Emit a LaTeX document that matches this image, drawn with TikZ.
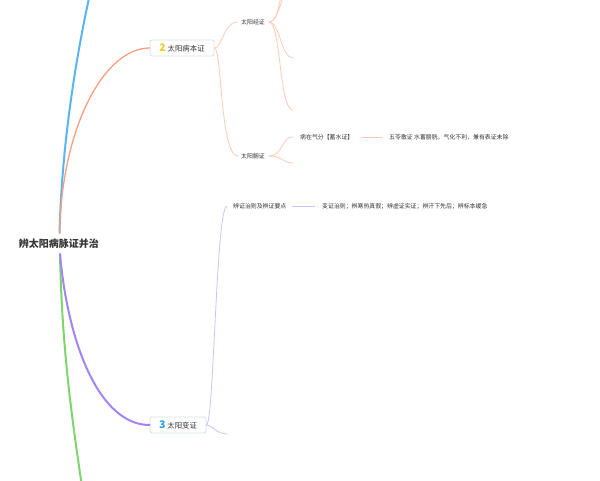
\documentclass[tikz,border=0pt]{standalone}
\usepackage{fontspec}
\setmainfont{Noto Sans CJK SC}
\definecolor{cblue}{HTML}{5BB4F0}
\definecolor{corange}{HTML}{F7A07F}
\definecolor{corlight}{HTML}{FDCBB5}
\definecolor{cgreen}{HTML}{7DD56F}
\definecolor{cpurple}{HTML}{A384F2}
\definecolor{cpurlight}{HTML}{CDC3F7}
\definecolor{cyellow}{HTML}{F5C826}
\definecolor{cnum}{HTML}{2A9EE0}
\definecolor{cbox}{HTML}{CFE3DE}
\definecolor{ctext}{HTML}{333333}
\begin{document}
\begin{tikzpicture}[x=1pt,y=-1pt,
  root/.style={font=\fontsize{10}{12}\selectfont\bfseries, text=ctext, inner sep=0pt},
  topic/.style={draw=cbox, line width=0.8pt, rounded corners=1.5pt, fill=white,
    font=\fontsize{7.4}{9}\selectfont, text=ctext, minimum height=16pt, inner xsep=3pt, inner ysep=0pt},
  leaf/.style={font=\fontsize{5.9}{7}\selectfont, text=ctext, inner sep=0pt, anchor=west},
  thick branch/.style={line width=2pt, line cap=round},
  thin branch/.style={line width=0.8pt}
]
\useasboundingbox (0,0) rectangle (600,480);
\fill[white] (0,0) rectangle (600,480);
\begin{scope}
\clip (0,0) rectangle (600,480);
% nodes
\node[root] (root) at (59,244) {辨太阳病脉证并治};
\node[topic, minimum width=64pt] (t2) at (182,48) {{\color{cyellow}\fontsize{10.5}{10}\selectfont\bfseries 2}\hspace{2pt}太阳病本证};
\node[topic, minimum width=56pt] (t3) at (178,425) {{\color{cnum}\fontsize{10.5}{10}\selectfont\bfseries 3}\hspace{2pt}太阳变证};
\node[leaf] (jing) at (241,22) {太阳经证};
\node[leaf] (fu) at (241,156) {太阳腑证};
\node[leaf] (qifen) at (300,137) {病在气分【蓄水证】};
\node[leaf] (wuling) at (389,137) {五苓散证 水蓄膀胱，气化不利，兼有表证未除};
\node[leaf] (bian) at (233,206) {辨证治则及辨证要点};
\node[leaf] (bianzheng) at (322,206) {变证治则；辨寒热真假；辨虚证实证；辨汗下先后；辨标本缓急};
% free ends
\coordinate (rt) at (59.5,233);
\coordinate (rb) at (60,254);
\coordinate (b1) at (93,-20);
\coordinate (g1) at (84,500);
\coordinate (j1) at (293,-40);
\coordinate (j2) at (293,-15);
\coordinate (j3) at (293,58);
\coordinate (j4) at (293,110);
\coordinate (f2) at (293,163);
\coordinate (p2) at (227,434);
% main branches
\draw[thick branch, cblue] (rt) .. controls (62,140) and (77,50) .. (b1);
\draw[thick branch, corange, line width=1.3pt] (rt) .. controls (62,125) and (105,48) .. (t2.west);
\draw[thick branch, cgreen] (rb) .. controls (62,350) and (72,420) .. (g1);
\draw[thick branch, cpurple] (rb) .. controls (68,345) and (100,425) .. (t3.west);
% sub-branches of 2
\draw[thin branch, corlight] (t2.east) .. controls (222,48) and (224,22) .. ([xshift=-4pt]jing.west);
\draw[thin branch, corlight] (t2.east) .. controls (222,48) and (220,156) .. ([xshift=-3pt]fu.west);
\draw[thin branch, corlight] ([xshift=4pt]jing.east) .. controls (284,22) and (280,-40) .. (j1);
\draw[thin branch, corlight] ([xshift=4pt]jing.east) .. controls (280,22) and (282,-15) .. (j2);
\draw[thin branch, corlight] ([xshift=4pt]jing.east) .. controls (280,22) and (281,58) .. (j3);
\draw[thin branch, corlight] ([xshift=4pt]jing.east) .. controls (281,22) and (279,110) .. (j4);
\draw[thin branch, corlight] ([xshift=4pt]fu.east) .. controls (283,156) and (282,136) .. ([xshift=-7pt]qifen.west);
\draw[thin branch, corlight] ([xshift=4pt]fu.east) .. controls (283,156) and (282,163) .. (f2);
\draw[thin branch, corlight] ([xshift=8pt]qifen.east) -- ([xshift=-7pt]wuling.west);
% sub-branches of 3
\draw[thin branch, cpurlight] (t3.east) .. controls (214,425) and (216,206) .. ([xshift=-6pt]bian.west);
\draw[thin branch, cpurlight] (t3.east) .. controls (213,425) and (214,433) .. (p2);
\draw[thin branch, cpurlight] ([xshift=5pt]bian.east) -- ([xshift=-7pt]bianzheng.west);
\end{scope}
\end{tikzpicture}
\end{document}
